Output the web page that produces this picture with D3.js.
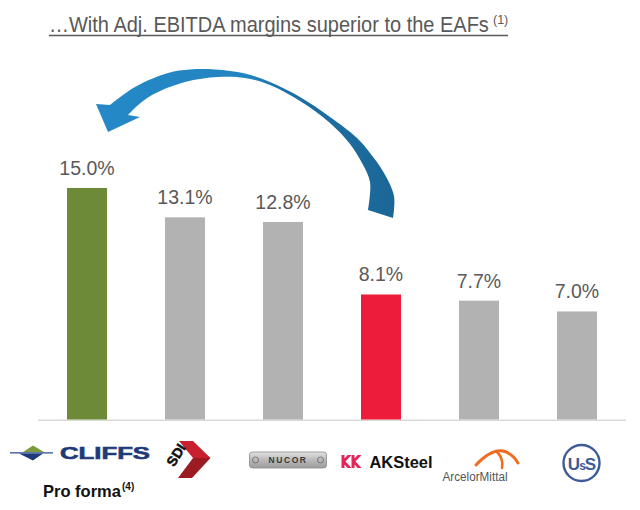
<!DOCTYPE html>
<html>
<head>
<meta charset="utf-8">
<script src="https://cdn.jsdelivr.net/npm/d3@7"></script>
<style>
  html, body { margin: 0; padding: 0; background: #fff; }
  svg { display: block; font-family: "Liberation Sans", Arial, sans-serif; }
</style>
</head>
<body>
<svg id="chart" width="640" height="510"></svg>
<script>
// ---- data ----
const companies = ["Cliffs Pro forma", "SDI", "Nucor", "AK Steel", "ArcelorMittal", "U.S. Steel"];
const margins = [15.0, 13.1, 12.8, 8.1, 7.7, 7.0];
const valueLabels = ["15.0%", "13.1%", "12.8%", "8.1%", "7.7%", "7.0%"];
const titleText = "\u2026With Adj. EBITDA margins superior to the EAFs";
const titleNote = "(1)";
const proFormaText = "Pro forma";
const proFormaNote = "(4)";

// ---- setup ----
const svg = d3.select("#chart");
const baseY = 419.5;

const x = d3.scaleBand().domain(companies).range([38, 626])
  .paddingInner(0.592).paddingOuter(0.296);
const y = d3.scaleLinear().domain([0, 15]).range([baseY, 188]);
const bw = x.bandwidth();
const cx = d => x(d) + bw / 2;

const barColor = (d, i) => i === 0 ? "#6d8a38" : (d === "AK Steel" ? "#ed1c3a" : "#b2b2b2");
const textGrey = "#595959";

// ---- title ----
svg.append("text")
  .attr("transform", "translate(49,32) scale(1,1.12)")
  .attr("font-size", 20)
  .attr("fill", textGrey)
  .text(titleText);
svg.append("text")
  .attr("x", 493).attr("y", 24)
  .attr("font-size", 12.5)
  .attr("fill", textGrey)
  .text(titleNote);
svg.append("line")
  .attr("x1", 49).attr("x2", 508).attr("y1", 35.5).attr("y2", 35.5)
  .attr("stroke", textGrey).attr("stroke-width", 1.3);

// ---- baseline ----
svg.append("line")
  .attr("x1", 38).attr("x2", 626).attr("y1", baseY + 0.8).attr("y2", baseY + 0.8)
  .attr("stroke", "#d9d9d9").attr("stroke-width", 1.6);

// ---- bars ----
svg.append("g").selectAll("rect")
  .data(companies)
  .join("rect")
  .attr("x", d => x(d))
  .attr("width", bw)
  .attr("y", (d, i) => y(margins[i]))
  .attr("height", (d, i) => baseY - y(margins[i]))
  .attr("fill", barColor);

// ---- value labels ----
svg.append("g").selectAll("text")
  .data(companies)
  .join("text")
  .attr("x", d => cx(d))
  .attr("y", (d, i) => y(margins[i]) - 13)
  .attr("text-anchor", "middle")
  .attr("font-size", 19.5)
  .attr("fill", textGrey)
  .text((d, i) => valueLabels[i]);

// ---- curved arrow annotation (from AK Steel back to Cliffs) ----
const defs = svg.append("defs");
const ag = defs.append("linearGradient").attr("id", "arrowGrad")
  .attr("gradientUnits", "userSpaceOnUse")
  .attr("x1", 100).attr("y1", 0).attr("x2", 395).attr("y2", 0);
ag.append("stop").attr("offset", "0").attr("stop-color", "#2589c7");
ag.append("stop").attr("offset", "0.5").attr("stop-color", "#2284c1");
ag.append("stop").attr("offset", "0.62").attr("stop-color", "#1d71a6");
ag.append("stop").attr("offset", "1").attr("stop-color", "#1b6797");

const outerEdge = [[393,218],[394,196],[384,173],[370,153],[357,138],[330,117],[300,97],[270,82],[245,73.5],[215,69.5],[190,69.5],[168,73],[135,87],[110,105]];
const headPts = [[96,104],[108,132],[140,117],[128,115]];
const innerEdge = [[128,115],[137,106],[152,95],[185,82],[218,77],[245,78],[270,85],[300,101],[330,123],[350,144],[362,163],[370,182],[368,210]];
const curve = d3.line().curve(d3.curveCatmullRom.alpha(0.5));
let arrowD = curve(outerEdge);
headPts.forEach(p => { arrowD += "L" + p[0] + "," + p[1]; });
arrowD += curve(innerEdge).replace(/^M/, "L") + "Z";
svg.append("path").attr("d", arrowD).attr("fill", "url(#arrowGrad)");

// ---- logos ----
// Cliffs
(function () {
  const c = cx(companies[0]);
  const g = svg.append("g").attr("transform", `translate(${c},0)`);
  g.append("path").attr("d", "M-77,452.3 L-34,452.3 L-34,453.6 L-77,453.6 Z").attr("fill", "#2a4b8d");
  g.append("path").attr("d", "M-64,452 L-54,445.5 L-43,452 Z").attr("fill", "#7d9b3c");
  g.append("path").attr("d", "M-68,453.6 L-54,460.5 L-44,453.6 Z").attr("fill", "#1f3a78");
  g.append("text").attr("x", -27).attr("y", 459).attr("font-size", 17).attr("font-weight", "bold")
    .attr("fill", "#1f3a78").attr("stroke", "#1f3a78").attr("stroke-width", 0.6)
    .attr("textLength", 90).attr("lengthAdjust", "spacingAndGlyphs").text("CLIFFS");
  g.append("text").attr("x", -44).attr("y", 497).attr("font-size", 16.5).attr("font-weight", "bold")
    .attr("fill", "#111").text(proFormaText);
  g.append("text").attr("x", 35).attr("y", 490).attr("font-size", 10).attr("font-weight", "bold")
    .attr("fill", "#111").text(proFormaNote);
})();
// SDI
(function () {
  const c = cx(companies[1]);
  const g = svg.append("g").attr("transform", `translate(${c},0)`);
  g.append("path").attr("d", "M-6,441 L8,441 L25.5,458 L8,458 Z").attr("fill", "#c8202f");
  g.append("path").attr("d", "M8,458 L25.5,458 L7,478 L-7,478 Z").attr("fill", "#9b1b23");
  g.append("text").attr("transform", "translate(-9,455) rotate(-58)")
    .attr("text-anchor", "middle").attr("dy", "0.35em")
    .attr("font-size", 14).attr("font-weight", "900").attr("fill", "#111")
    .attr("stroke", "#111").attr("stroke-width", 0.5).text("SDI");
})();
// Nucor
(function () {
  const c = cx(companies[2]);
  const g = svg.append("g").attr("transform", `translate(${c},0)`);
  const ng = defs.append("linearGradient").attr("id", "nucorGrad").attr("x1", 0).attr("y1", 0).attr("x2", 0).attr("y2", 1);
  ng.append("stop").attr("offset", "0").attr("stop-color", "#e2e2e2");
  ng.append("stop").attr("offset", "0.5").attr("stop-color", "#b9b9b9");
  ng.append("stop").attr("offset", "1").attr("stop-color", "#9c9c9c");
  g.append("rect").attr("x", -33.5).attr("y", 452).attr("width", 77).attr("height", 16).attr("rx", 3)
    .attr("fill", "url(#nucorGrad)").attr("stroke", "#8a8a8a").attr("stroke-width", 0.8);
  g.append("circle").attr("cx", -27.5).attr("cy", 460).attr("r", 3).attr("fill", "none").attr("stroke", "#666").attr("stroke-width", 0.8);
  g.append("circle").attr("cx", 37.5).attr("cy", 460).attr("r", 3).attr("fill", "none").attr("stroke", "#666").attr("stroke-width", 0.8);
  g.append("text").attr("x", 5).attr("y", 463.2).attr("text-anchor", "middle")
    .attr("font-size", 8.5).attr("font-weight", "bold").attr("letter-spacing", 1.6).attr("fill", "#3a3a3a").text("NUCOR");
})();
// AK Steel
(function () {
  const c = cx(companies[3]);
  const g = svg.append("g").attr("transform", `translate(${c},0)`);
  [0, 10].forEach(ox => {
    const x0 = -39.5 + ox;
    g.append("path").attr("d", `M${x0},455 h3 v13 h-3 Z M${x0 + 10},455 l-6,6.5 l6,6.5 h-3.8 l-6,-6.5 l6,-6.5 Z`)
      .attr("fill", "#e4245b");
  });
  g.append("text").attr("x", -11.5).attr("y", 468).attr("font-size", 17).attr("font-weight", "bold")
    .attr("fill", "#111").attr("textLength", 63).attr("lengthAdjust", "spacingAndGlyphs").text("AKSteel");
})();
// ArcelorMittal
(function () {
  const c = cx(companies[4]);
  const g = svg.append("g").attr("transform", `translate(${c},0)`);
  g.append("path").attr("d", "M-3,465 Q12,449 24,451 Q33,453 39,463")
    .attr("fill", "none").attr("stroke", "#f26b21").attr("stroke-width", 3).attr("stroke-linecap", "round");
  g.append("path").attr("d", "M17,451 Q25,458 23,468")
    .attr("fill", "none").attr("stroke", "#f26b21").attr("stroke-width", 2.5).attr("stroke-linecap", "round");
  g.append("text").attr("x", -4).attr("y", 481).attr("text-anchor", "middle")
    .attr("font-size", 12).attr("fill", "#555").attr("textLength", 65).attr("lengthAdjust", "spacingAndGlyphs").text("ArcelorMittal");
})();
// U.S. Steel
(function () {
  const c = cx(companies[5]);
  const g = svg.append("g").attr("transform", `translate(${c},0)`);
  g.append("circle").attr("cx", 4.5).attr("cy", 463).attr("r", 18).attr("fill", "none")
    .attr("stroke", "#3d5a99").attr("stroke-width", 2.4);
  const t = g.append("text").attr("x", 4.5).attr("y", 469.5).attr("text-anchor", "middle")
    .attr("font-size", 17).attr("font-weight", "bold").attr("fill", "#3d5a99").attr("letter-spacing", -1);
  t.append("tspan").text("U");
  t.append("tspan").attr("font-size", 12).text("s");
  t.append("tspan").text("S");
})();
</script>
</body>
</html>
